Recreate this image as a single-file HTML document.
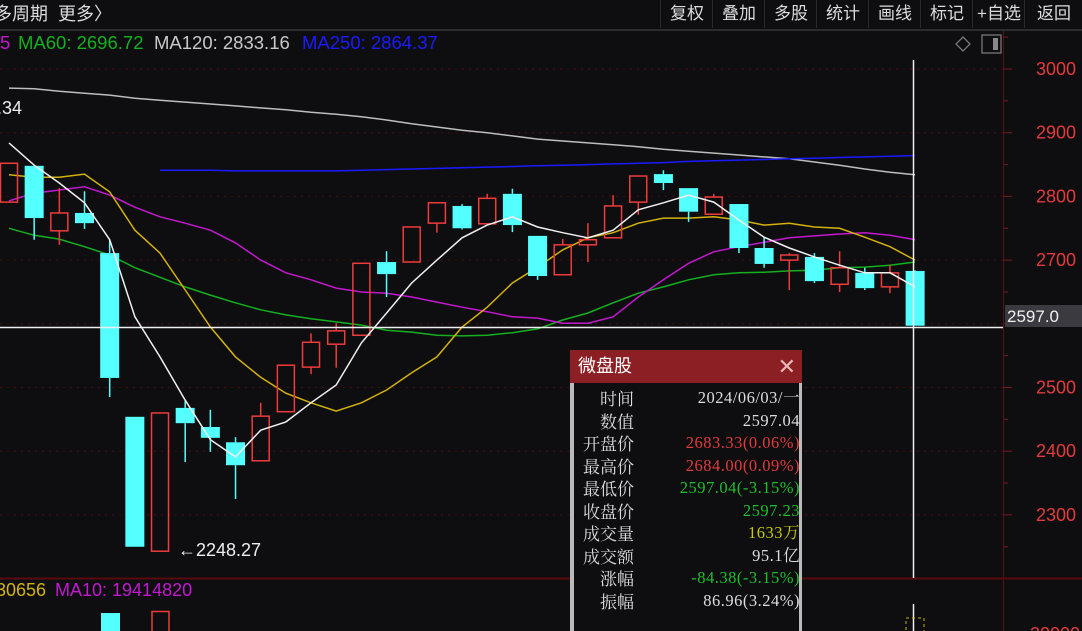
<!DOCTYPE html>
<html><head><meta charset="utf-8"><style>
body{margin:0;background:#0e0e11;width:1082px;height:631px;overflow:hidden;font-family:"Liberation Sans","Noto Sans CJK SC",sans-serif}
#root{position:relative;width:1082px;height:631px}
.tb{position:absolute;top:0;height:28px;line-height:28px;color:#dcdcdc;font-size:17px;text-align:center;border-left:1px solid #2a2a2e}
</style></head><body><div id="root">
<svg id="svg" width="1082" height="631" style="position:absolute;left:0;top:0"></svg>
<div style="position:absolute;left:0;top:0;width:1082px;height:29px;border-bottom:2px solid #2c2c30;background:#0e0e11"></div>
<div style="position:absolute;left:-6px;top:0;height:28px;line-height:28px;color:#dcdcdc;font-size:18px">多周期&nbsp;&nbsp;更多〉</div>
<div class="tb" style="left:660px;width:52px">复权</div>
<div class="tb" style="left:712px;width:52px">叠加</div>
<div class="tb" style="left:764px;width:52px">多股</div>
<div class="tb" style="left:816px;width:52px">统计</div>
<div class="tb" style="left:868px;width:52px">画线</div>
<div class="tb" style="left:920px;width:52px">标记</div>
<div class="tb" style="left:972px;width:52px">+自选</div>
<div class="tb" style="left:1024px;width:58px">返回</div>
<div style="position:absolute;left:570px;top:350px;width:232px;height:281px;background:#0e0e11;border-left:4px solid #bbb;border-right:3px solid #bbb;box-sizing:border-box">
<div style="position:absolute;left:-4px;top:0;width:232px;height:33px;background:#8c1f23;color:#fff;font-size:18px;line-height:33px;padding-left:8px;box-sizing:border-box">微盘股<span style="position:absolute;right:6px;top:0;color:#e9b8b8;font-size:22px">✕</span></div>
<div id="rows" style="position:absolute;left:0;top:37px;width:226px;font-family:'Liberation Serif','Noto Serif CJK SC',serif;font-size:16.5px"></div>
</div>
</div>
<script>
const dates=["2024/06/03/一"];
const openV=[2791,2848,2746,2774,2711,2454,2243,2468,2438,2414,2385,2462,2532,2568,2582,2697,2697,2758,2785,2757,2804,2738,2677,2724,2735,2791,2835,2813,2772,2788,2719,2700,2705,2662,2680,2658,2683];
const closeV=[2852,2766,2774,2758,2515,2250,2460,2444,2421,2378,2455,2535,2571,2589,2695,2678,2752,2790,2750,2797,2755,2675,2724,2732,2785,2832,2821,2776,2799,2719,2694,2708,2667,2688,2656,2680,2597];
const highV=[2852,2849,2813,2808,2732,2454,2460,2480,2465,2422,2476,2535,2585,2601,2695,2714,2752,2790,2788,2804,2812,2738,2733,2758,2802,2832,2841,2813,2804,2788,2736,2711,2711,2714,2688,2692,2684];
const lowV=[2791,2732,2724,2749,2485,2250,2248,2383,2399,2325,2385,2462,2521,2531,2582,2642,2697,2743,2748,2757,2744,2669,2677,2697,2735,2771,2810,2760,2772,2711,2688,2653,2664,2650,2653,2648,2597];
const ma5=[2884,2849,2821,2790,2732,2611,2548,2480,2418,2391,2433,2446,2476,2504,2570,2617,2664,2700,2735,2755,2768,2752,2743,2735,2747,2779,2790,2802,2791,2763,2736,2719,2705,2692,2680,2680,2658];
const ma10=[2834,2830,2830,2835,2807,2747,2711,2653,2595,2548,2516,2491,2476,2463,2476,2496,2523,2548,2595,2626,2664,2689,2716,2735,2743,2758,2766,2766,2768,2763,2755,2758,2752,2750,2736,2721,2700];
const ma20=[2793,2805,2810,2815,2802,2783,2768,2758,2747,2727,2700,2680,2669,2656,2650,2648,2642,2634,2626,2619,2611,2609,2601,2601,2611,2642,2669,2695,2713,2721,2728,2735,2738,2741,2743,2739,2732];
const ma60=[2750,2739,2733,2721,2708,2688,2673,2658,2645,2633,2622,2614,2608,2603,2598,2590,2587,2582,2581,2582,2586,2592,2606,2617,2633,2648,2658,2669,2677,2680,2681,2683,2684,2688,2689,2692,2697];
const ma120=[2970,2969,2965,2962,2959,2954,2951,2948,2945,2942,2939,2936,2932,2929,2925,2920,2914,2909,2904,2900,2895,2890,2887,2884,2881,2878,2874,2871,2868,2865,2862,2859,2854,2849,2843,2838,2834];
const ma250=[null,null,null,null,null,null,2841,2841,2841,2840,2840,2840,2840,2840,2841,2842,2843,2844,2845,2846,2847,2848,2849,2850,2851,2852,2853,2855,2856,2857,2858,2859,2860,2861,2862,2863,2864];
const yTicks=[3000,2900,2800,2700,2500,2400,2300];
const gridLevels=[3000,2900,2800,2700,2600,2500,2400,2300];

const NS="http://www.w3.org/2000/svg",svg=document.getElementById('svg');
const X=i=>9+i*25.17, Y=v=>69+(3000-v)*0.637;
function el(t,a,p){const e=document.createElementNS(NS,t);for(const k in a)e.setAttribute(k,a[k]);(p||svg).appendChild(e);return e;}
gridLevels.forEach(v=>{const g=el('line',{x1:0,x2:1003,y1:Y(v),y2:Y(v),stroke:'#4a0d0f','stroke-dasharray':'2,5'});

});
const ax=el('line',{x1:1003.5,x2:1003.5,y1:29,y2:631,stroke:'#5a1014'});


for(let v=3050;v>=2250;v-=50){const t=el('line',{x1:1004,x2:v%100?1008:1012,y1:Y(v),y2:Y(v),stroke:'#7a1a1c'});

}
yTicks.forEach(v=>{const t=el('text',{x:1076,y:Y(v)+6,'text-anchor':'end',fill:'#e23b3b','font-size':18});t.textContent=v;

});
const sp=el('line',{x1:0,x2:1082,y1:578.5,y2:578.5,stroke:'#5a0a0c','stroke-width':2});


function line(arr,color,name){let d='';arr.forEach((v,i)=>{if(v==null)return;d+=(d?'L':'M')+X(i).toFixed(1)+','+Y(v).toFixed(1);});
const p=el('path',{d:d,fill:'none',stroke:color,'stroke-width':1.5});

}
line(ma120,'#bdbdbd','ma120-line');
line(ma250,'#1a1aff','ma250-line');
line(ma60,'#14b01e','ma60-line');
line(ma20,'#c318cf','ma20-line');
line(ma10,'#d4b20c','ma10-line');
openV.forEach((o,i)=>{const c=closeV[i],up=c>=o,x=X(i),col=up?'#ee3b3b':'#54ffff';
const g=el('g',{});


const top=Math.max(o,c),bot=Math.min(o,c);
if(highV[i]>top)el('line',{x1:x,x2:x,y1:Y(highV[i]),y2:Y(top),stroke:col,'stroke-width':1.5},g);
if(lowV[i]<bot)el('line',{x1:x,x2:x,y1:Y(bot),y2:Y(lowV[i]),stroke:col,'stroke-width':1.5},g);
const h=Math.max(1.5,Y(bot)-Y(top));
if(up)el('rect',{x:x-8.5,y:Y(top),width:17,height:h,fill:'none',stroke:col,'stroke-width':1.5},g);
else el('rect',{x:x-9.5,y:Y(top),width:19,height:h,fill:col},g);});
line(ma5,'#f0f0f0','ma5-line');
const ch=el('line',{x1:0,x2:1003,y1:327.5,y2:327.5,stroke:'#eee','stroke-width':1.5});


const cv=el('line',{x1:913.5,x2:913.5,y1:60,y2:578,stroke:'#eee','stroke-width':1.5});


const cv2=el('line',{x1:913.5,x2:913.5,y1:604,y2:631,stroke:'#eee','stroke-width':1.5});


const pb=el('rect',{x:1005,y:305,width:77,height:22,fill:'#3a3a40'});


const pt=el('text',{x:1007,y:322,fill:'#f0f0f0','font-size':17});pt.textContent='2597.0';


const ml=el('text',{x:178,y:556,fill:'#eee','font-size':18});ml.textContent='←2248.27';


const mx=el('text',{x:22,y:114,'text-anchor':'end',fill:'#eee','font-size':18});mx.textContent='2970.34';


const lg=[['5',0,'#c318cf'],['MA60: 2696.72',18,'#14b01e'],['MA120: 2833.16',154,'#c8c8c8'],['MA250: 2864.37',302,'#1a1aff']];
lg.forEach(a=>{const t=el('text',{x:a[1],y:49,fill:a[2],'font-size':18.5});t.textContent=a[0];

});
const dm=el('path',{d:'M963,37 L970,44 L963,51 L956,44Z',fill:'none',stroke:'#777','stroke-width':1.3});


const sq=el('rect',{x:982,y:35,width:19,height:18,fill:'none',stroke:'#777','stroke-width':1.3});


el('rect',{x:993,y:38,width:5,height:12,fill:'#888'});
const vl=[['30656',-4,'#d4b20c'],['MA10: 19414820',55,'#c318cf']];
vl.forEach(a=>{const t=el('text',{x:a[1],y:596,fill:a[2],'font-size':18});t.textContent=a[0];

});
const vb1=el('rect',{x:101,y:613,width:19,height:20,fill:'#54ffff'});


const vb2=el('rect',{x:152,y:611.5,width:17,height:22,fill:'none',stroke:'#ee3b3b','stroke-width':1.5});


const vb3=el('rect',{x:906,y:618,width:18,height:15,fill:'none',stroke:'#c8b000','stroke-dasharray':'3,3'});


const vt=el('text',{x:1030,y:640,fill:'#e23b3b','font-size':18});vt.textContent='30000';


const rowLabels=['时间','数值','开盘价','最高价','最低价','收盘价','成交量','成交额','涨幅','振幅'];
const rowVals=[dates[0],'2597.04','2683.33(0.06%)','2684.00(0.09%)','2597.04(-3.15%)','2597.23','1633万','95.1亿','-84.38(-3.15%)','86.96(3.24%)'];
const rowCols=['#ddd','#ddd','#e23b3b','#e23b3b','#1fbf2a','#1fbf2a','#c8c800','#ddd','#1fbf2a','#ddd'];
const rows=document.getElementById('rows');
rowLabels.forEach((l,i)=>{const r=document.createElement('div');


r.style.cssText='position:relative;height:22.5px;line-height:22.5px';
r.innerHTML='<span style="position:absolute;right:166px;color:#ddd;font-family:\'Noto Serif CJK SC\',serif;font-size:17px">'+l+'</span><span style="position:absolute;right:0;color:'+rowCols[i]+';letter-spacing:0.5px">'+rowVals[i]+'</span>';
rows.appendChild(r);});
</script></body></html>
